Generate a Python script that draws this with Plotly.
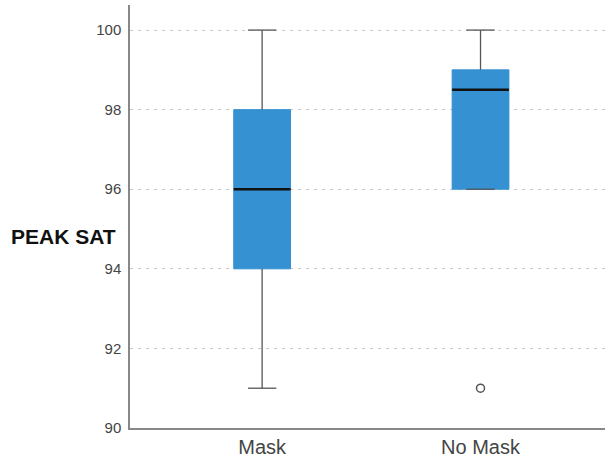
import plotly.graph_objects as go

# Summary statistics of peak oxygen saturation per group
groups = ["Mask", "No Mask"]
positions = [0, 1]
lower_whisker = [91, 96]
q1 = [94, 96]
median = [96, 98.5]
q3 = [98, 99]
upper_whisker = [100, 100]
outlier_x = [1]
outlier_y = [91]

y_ticks = [90, 92, 94, 96, 98, 100]

BOX_W = 0.26
CAP_W = BOX_W / 2
BLUE = "#3591d1"
GREY = "#555555"

fig = go.Figure()

# Whiskers (stems and caps)
for x, lo, a, b, hi in zip(positions, lower_whisker, q1, q3, upper_whisker):
    fig.add_trace(go.Scatter(
        x=[x, x, None, x, x, None, x - CAP_W / 2, x + CAP_W / 2, None, x - CAP_W / 2, x + CAP_W / 2],
        y=[lo, a, None, b, hi, None, lo, lo, None, hi, hi],
        mode="lines", line=dict(color=GREY, width=1.3),
        hoverinfo="skip", showlegend=False,
    ))

# Boxes
fig.add_trace(go.Box(
    x=positions, q1=q1, median=median, q3=q3,
    lowerfence=q1, upperfence=q3,
    width=BOX_W, fillcolor=BLUE, line=dict(color=BLUE, width=1),
    whiskerwidth=0, boxpoints=False, showlegend=False,
))

# Median lines
for x, m in zip(positions, median):
    fig.add_trace(go.Scatter(
        x=[x - BOX_W / 2, x + BOX_W / 2], y=[m, m],
        mode="lines", line=dict(color="#111111", width=2.6),
        hoverinfo="skip", showlegend=False,
    ))

# Outliers
fig.add_trace(go.Scatter(
    x=outlier_x, y=outlier_y, mode="markers",
    marker=dict(symbol="circle-open", size=8, color=GREY, line=dict(width=1.5)),
    showlegend=False,
))

fig.update_layout(
    width=609, height=461,
    margin=dict(l=130, r=4, t=5, b=33),
    plot_bgcolor="white", paper_bgcolor="white",
    font=dict(family="Liberation Sans, Arial, sans-serif", color="#333333"),
    xaxis=dict(
        range=[-0.605, 1.57], tickvals=positions, ticktext=groups,
        showgrid=False, zeroline=False, showline=True, linecolor="#888888", linewidth=1.5,
        tickfont=dict(size=20, color="#444444"), ticks="",
    ),
    yaxis=dict(
        range=[90, 100.63], tickvals=y_ticks,
        showgrid=True, gridcolor="#c8c8c8", griddash="3px,5px", gridwidth=1.2,
        zeroline=False, showline=True, linecolor="#888888", linewidth=1.5,
        tickfont=dict(size=15, color="#444444"), ticks="", ticklabelstandoff=4,
    ),
    annotations=[dict(
        text="<b>PEAK SAT</b>", xref="paper", yref="y", x=-0.141, y=94.8,
        xanchor="center", yanchor="middle", showarrow=False,
        font=dict(size=21, color="#111111", family="Liberation Sans, Arial, sans-serif"),
    )],
)

fig.write_html("out.html")
